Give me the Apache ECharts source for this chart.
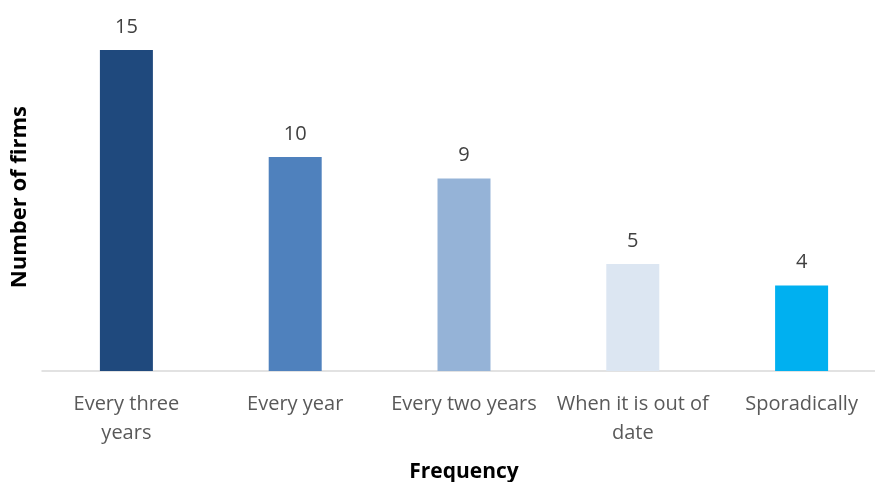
<!DOCTYPE html>
<html><head><meta charset="utf-8">
<script src="https://cdn.jsdelivr.net/npm/echarts@6/dist/echarts.min.js"></script>
<style>html,body{margin:0;padding:0;background:#fff}#c{width:875px;height:482px}</style>
</head><body><div id="c"></div>
<script>
const categories = ['Every three\nyears', 'Every year', 'Every two years', 'When it is out of\ndate', 'Sporadically'];
const values = [15, 10, 9, 5, 4];
const colors = ['#1F497D', '#4F81BD', '#95B3D7', '#DCE6F2', '#00B0F0'];
const xTitle = 'Frequency';
const yTitle = 'Number of firms';

const chart = echarts.init(document.getElementById('c'));
const font = '"Open Sans", "Liberation Sans", sans-serif';
chart.setOption({
  animation: false,
  grid: { left: 42, right: -11, top: 50, height: 321, containLabel: false, outerBoundsMode: 'none' },
  xAxis: {
    type: 'category', data: categories,
    axisLine: { lineStyle: { color: '#D9D9D9', width: 1.5 } },
    axisTick: { show: false },
    axisLabel: { color: '#595959', fontFamily: font, fontSize: 20, lineHeight: 29, margin: 19, interval: 0 },
    name: xTitle, nameLocation: 'middle', nameGap: 91,
    nameTextStyle: { color: '#000', fontFamily: font, fontSize: 21, fontWeight: 'bold' }
  },
  yAxis: {
    type: 'value', min: 0, max: 15, show: false
  },
  graphic: [{
    type: 'text', left: 9, top: 106, rotation: Math.PI / 2,
    style: { text: yTitle, fill: '#000', font: 'bold 22px ' + font }
  }],
  series: [{
    type: 'bar', barWidth: 53,
    data: values.map((v, i) => ({ value: v, itemStyle: { color: colors[i] } })),
    label: { show: true, position: 'top', distance: 13, color: '#404040', fontFamily: font, fontSize: 20 }
  }]
});
</script></body></html>
